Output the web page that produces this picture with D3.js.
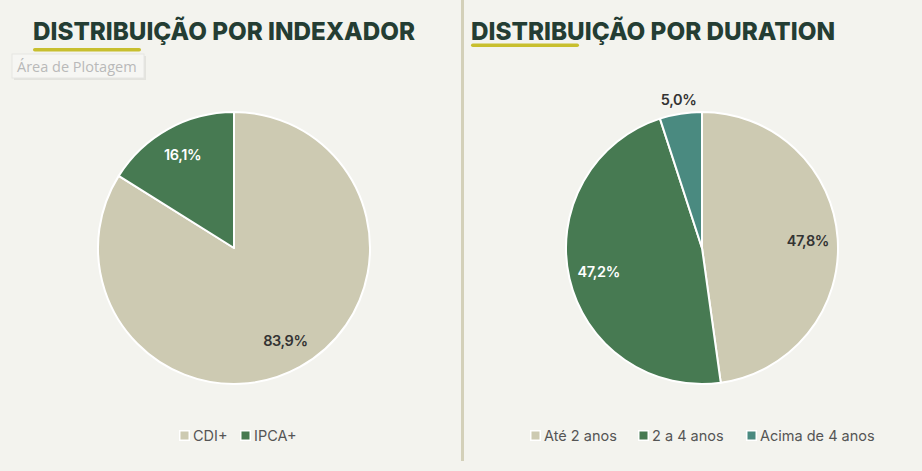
<!DOCTYPE html>
<html><head><meta charset="utf-8">
<script src="https://cdn.jsdelivr.net/npm/d3@7"></script>
<style>
html,body{margin:0;padding:0;background:#f3f3ee;}
svg{display:block;}
</style></head>
<body>
<svg id="c" width="922" height="471"></svg>
<script>
const titles = ["DISTRIBUIÇÃO POR INDEXADOR", "DISTRIBUIÇÃO POR DURATION"];
const indexCategories = ["CDI+", "IPCA+"];
const indexValues = [83.9, 16.1];
const durationCategories = ["Até 2 anos", "2 a 4 anos", "Acima de 4 anos"];
const durationValues = [47.8, 47.2, 5.0];
const colors = {"CDI+":"#cdcab2","IPCA+":"#477a52","Até 2 anos":"#cdcab2","2 a 4 anos":"#477a52","Acima de 4 anos":"#4a8a80"};
const labelColors = {"CDI+":"#333333","IPCA+":"#ffffff","Até 2 anos":"#333333","2 a 4 anos":"#ffffff","Acima de 4 anos":"#333333"};

const svg = d3.select("#c");
svg.append("rect").attr("width",922).attr("height",471).attr("fill","#f3f3ee");
// divider
svg.append("rect").attr("x",461).attr("y",0).attr("width",3).attr("height",461).attr("fill","#d3d0b9");

const fmt = v => d3.format(".1f")(v).replace(".", ",") + "%";

function panel(opts){
  const g = svg.append("g");
  g.append("text").attr("x",opts.tx).attr("y",40)
    .attr("font-family","Inter, 'Open Sans', sans-serif").attr("font-weight",800)
    .attr("font-size",25).attr("fill","#243d33")
    .attr("textLength",opts.tw).attr("lengthAdjust","spacingAndGlyphs")
    .text(opts.title);
  g.append("rect").attr("x",opts.tx).attr("y",opts.uy).attr("width",108).attr("height",3.5)
    .attr("rx",1.75).attr("fill","#c8bf2e");

  const pie = d3.pie().sort(null).value(d=>d.v);
  const data = pie(opts.cats.map((c,i)=>({c, v: opts.vals[i]})));
  const R = 136;
  const arc = d3.arc().innerRadius(0).outerRadius(R);
  const pg = g.append("g").attr("transform",`translate(${opts.cx},${opts.cy})`);
  pg.selectAll("path").data(data).join("path")
    .attr("d",arc).attr("fill",d=>colors[d.data.c])
    .attr("stroke","#ffffff").attr("stroke-width",2).attr("stroke-linejoin","round");
  const inArc = d3.arc().innerRadius(R*0.78).outerRadius(R*0.78);
  const outArc = d3.arc().innerRadius(R*1.1).outerRadius(R*1.1);
  pg.selectAll("text").data(data).join("text")
    .attr("transform",d=>{
      const p = (d.data.v < 10 ? outArc : inArc).centroid(d);
      return `translate(${p[0]},${p[1]})`;
    })
    .attr("text-anchor","middle").attr("dy","0.35em")
    .attr("font-family","Inter, 'Open Sans', sans-serif").attr("font-weight",600)
    .attr("font-size",14.5).attr("letter-spacing","-0.4")
    .attr("fill",d=> d.data.v < 10 ? "#333333" : labelColors[d.data.c])
    .text(d=>fmt(d.data.v));

  // legend
  const lg = g.append("g");
  opts.cats.forEach((c,i)=>{
    const x = opts.lx[i];
    lg.append("rect").attr("x",x).attr("y",430).attr("width",11).attr("height",11).attr("fill","#ffffff");
    lg.append("rect").attr("x",x+1.5).attr("y",431.5).attr("width",8).attr("height",8).attr("fill",colors[c]);
    lg.append("text").attr("x",x+14).attr("y",441)
      .attr("font-family","Inter, 'Open Sans', sans-serif").attr("font-size",14.5)
      .attr("fill","#555555").text(c);
  });
}

panel({title:titles[0], tx:33, tw:382, uy:48, cx:234, cy:248, cats:indexCategories, vals:indexValues, lx:[179,240]});
panel({title:titles[1], tx:471, tw:364, uy:43.5, cx:702, cy:248, cats:durationCategories, vals:durationValues, lx:[530,638,746]});

// "Área de Plotagem" tooltip
const tip = svg.append("g");
tip.append("rect").attr("x",14).attr("y",56).attr("width",132).attr("height",24).attr("fill","#d8d8d4").attr("opacity",0.6);
tip.append("rect").attr("x",12).attr("y",54).attr("width",132).attr("height",24).attr("fill","#f6f6f3").attr("stroke","#e6e6e2");
tip.append("text").attr("x",17).attr("y",72).attr("font-family","'Open Sans', 'Noto Sans', sans-serif")
  .attr("font-size",14.5).attr("fill","#b9b9b9").text("Área de Plotagem");
</script>
</body></html>
